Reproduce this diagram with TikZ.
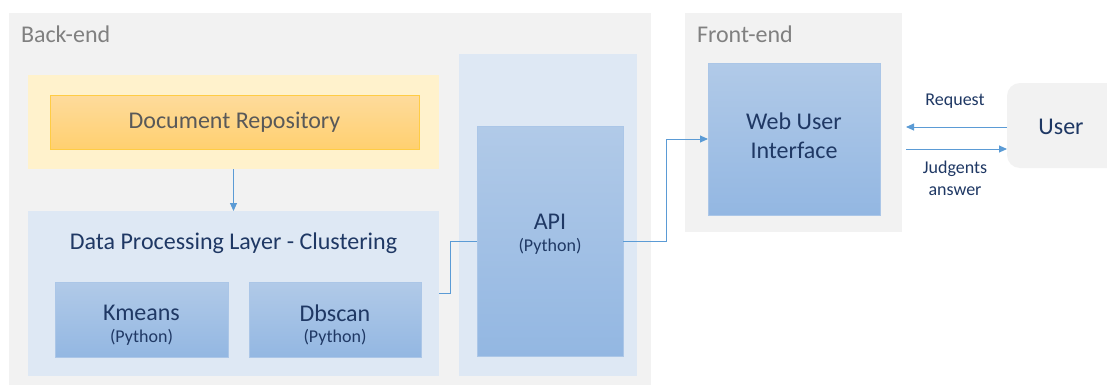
\documentclass[tikz,border=0pt]{standalone}
\usepackage{fontspec}
\setmainfont{Carlito}
\usetikzlibrary{arrows.meta}
\definecolor{bggray}{HTML}{F2F2F2}
\definecolor{yellowlight}{HTML}{FFF2CC}
\definecolor{orangetop}{HTML}{FEDB9C}
\definecolor{orangebot}{HTML}{FFD070}
\definecolor{orangeborder}{HTML}{FFCC44}
\definecolor{bluelight}{HTML}{DEE8F4}
\definecolor{bluetop}{HTML}{B1CAE8}
\definecolor{bluebot}{HTML}{93B7E2}
\definecolor{blueborder}{HTML}{ABC6E7}
\definecolor{navytext}{HTML}{1F3864}
\definecolor{graytext}{HTML}{595959}
\definecolor{labelgray}{HTML}{808080}
\definecolor{linkblue}{HTML}{5B9BD5}
\definecolor{usergray}{HTML}{F2F2F2}
\tikzset{
  every node/.style={inner sep=0pt, outer sep=0pt},
  area/.style={rectangle, fill=bggray},
  yellowarea/.style={rectangle, fill=yellowlight},
  orangebox/.style={rectangle, top color=orangetop, bottom color=orangebot, draw=orangeborder, line width=0.8pt, text=graytext, font=\fontsize{24}{28}\selectfont},
  bluearea/.style={rectangle, fill=bluelight},
  bluebox/.style={rectangle, top color=bluetop, bottom color=bluebot, draw=blueborder, line width=0.6pt},
  bigtxt/.style={text=navytext, font=\fontsize{24}{28}\selectfont},
  smalltxt/.style={text=navytext, font=\fontsize{18}{21}\selectfont},
  arealabel/.style={text=labelgray, font=\fontsize{24}{28}\selectfont, anchor=west},
  conn/.style={draw=linkblue, line width=0.9pt},
  arr/.style={conn, -{Triangle[length=8pt,width=7pt]}},
  linklabel/.style={text=navytext, font=\fontsize{18}{22}\selectfont, align=center},
  userbox/.style={rectangle, rounded corners=13pt, fill=usergray}
}
\begin{document}
\begin{tikzpicture}[x=1pt,y=-1pt]
\useasboundingbox (0,0) rectangle (1107,386);
\clip (0,0) rectangle (1107,386);
\fill[white] (0,0) rectangle (1107,386);
% areas
\node[area, minimum width=642pt, minimum height=372pt] (back) at (330,199) {};
\node[arealabel] (backlbl) at (21,34) {Back-end};
\node[area, minimum width=217pt, minimum height=219pt] (front) at (793.5,122.5) {};
\node[arealabel] (frontlbl) at (697,34) {Front-end};
% document repository
\node[yellowarea, minimum width=411pt, minimum height=94pt] (docouter) at (233.5,122) {};
\node[orangebox, minimum width=369pt, minimum height=54pt] (doc) at (234.5,122) {Document Repository};
% data processing layer
\node[bluearea, minimum width=411pt, minimum height=165pt] (dpl) at (233.5,293.5) {};
\node[bigtxt] (dpltxt) at (233.5,243) {Data Processing Layer - Clustering};
\node[bluebox, minimum width=173pt, minimum height=75pt] (kmeans) at (141.5,319.5) {};
\node[bigtxt] (kmeanstxt) at (141.5,313) {Kmeans};
\node[smalltxt] (kmeanspy) at (141.5,337) {(Python)};
\node[bluebox, minimum width=172pt, minimum height=75pt] (dbscan) at (335,319.5) {};
\node[bigtxt] (dbscantxt) at (335,313) {Dbscan};
\node[smalltxt] (dbscanpy) at (335,337) {(Python)};
% API
\node[bluearea, minimum width=178pt, minimum height=322pt] (apiout) at (548,215) {};
\node[bluebox, minimum width=146pt, minimum height=230pt] (api) at (550,241) {};
\node[bigtxt] (apitxt) at (550,222) {API};
\node[smalltxt] (apipy) at (550,246) {(Python)};
% Web UI
\node[bluebox, minimum width=172pt, minimum height=152pt] (web) at (794,139) {};
\node[bigtxt] (webtxt1) at (794,121) {Web User};
\node[bigtxt] (webtxt2) at (794,150) {Interface};
% User
\node[userbox, minimum width=127pt, minimum height=85pt] (user) at (1070.5,125.5) {};
\node[bigtxt] (usertxt) at (1061,127) {User};
% connectors
\draw[arr] (docouter.south) -- (dpl.north);
\draw[conn] (dpl.east) -- ++(11,0) |- (api.west);
\draw[arr] (api.east) -- ++(43,0) |- (web.west);
\coordinate (reqend) at (906,127);
\coordinate (ansstart) at (906,149);
\draw[arr] (user.west |- reqend) -- (reqend);
\draw[arr] (ansstart) -- (user.west |- ansstart);
\node[linklabel] (reqlbl) at (955,101) {Request};
\node[linklabel] (anslbl1) at (955,169) {Judgents};
\node[linklabel] (anslbl2) at (955,191) {answer};
\end{tikzpicture}
\end{document}
